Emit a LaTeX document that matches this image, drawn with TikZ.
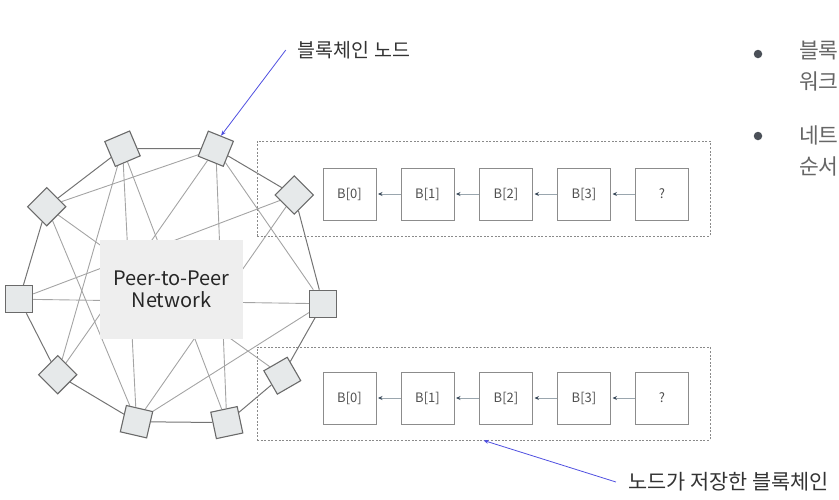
\documentclass[tikz,border=0pt]{standalone}
\usepackage{fontspec}
\setmainfont{Noto Sans CJK KR}
\usetikzlibrary{arrows.meta,backgrounds}
\definecolor{nodefill}{HTML}{E6E9EA}
\definecolor{nodeborder}{HTML}{6A6A6A}
\definecolor{ringcol}{HTML}{747474}
\definecolor{meshcol}{HTML}{A4A4A4}
\definecolor{p2pfill}{HTML}{EEEEEE}
\definecolor{blockborder}{HTML}{8C8C8C}
\definecolor{blocktext}{HTML}{505050}
\definecolor{dashcol}{HTML}{8A8A8A}
\definecolor{linkcol}{HTML}{9AA6AE}
\definecolor{tipcol}{HTML}{3A4A5A}
\definecolor{bluecol}{HTML}{4F4FE0}
\definecolor{labeltext}{HTML}{333333}
\definecolor{sidetextcol}{HTML}{666666}
\definecolor{bulletcol}{HTML}{4B5058}
\tikzset{
  peer/.style={shape=rectangle, draw=nodeborder, fill=nodefill, line width=1.1pt, minimum size=27pt, inner sep=0pt},
  ring/.style={draw=ringcol, line width=1pt},
  mesh/.style={draw=meshcol, line width=0.9pt},
  p2pbox/.style={fill=p2pfill, minimum width=143pt, minimum height=99pt, inner sep=0pt, align=center, text=black!85, font=\fontsize{20}{22}\selectfont},
  block/.style={draw=blockborder, line width=1pt, minimum width=53pt, minimum height=52pt, inner sep=0pt, text=blocktext, font=\fontsize{13}{15}\selectfont},
  chainbox/.style={draw=dashcol, dash pattern=on 2pt off 1.6pt, line width=0.8pt, minimum width=453pt, inner sep=0pt},
  link/.style={draw=linkcol, line width=1pt, -{Stealth[length=4.5pt,width=4pt,color=tipcol]}, shorten >=1.5pt},
  callout/.style={draw=bluecol, line width=0.8pt, -{Stealth[length=5pt,width=4pt]}},
  calltext/.style={inner xsep=12pt, inner ysep=2pt, text=labeltext, font=\fontsize{19.5}{22}\selectfont},
  sidetext/.style={anchor=west, inner sep=0pt, text=sidetextcol, font=\fontsize{21.5}{24}\selectfont},
  bulletdot/.style={circle, fill=bulletcol, minimum size=8.5pt, inner sep=0pt}
}
\begin{document}
\begin{tikzpicture}[x=1pt,y=-1pt]
\clip (0,0) rectangle (839,499);
% chain boxes
\node[chainbox, minimum height=95pt] (chainA) at (483.5,188.5) {};
\node[chainbox, minimum height=93pt] (chainB) at (483.5,393.5) {};
% blocks
\foreach \i/\x/\t in {0/349.5/B[0],1/427.5/B[1],2/506/B[2],3/584/B[3],4/662/?}{
  \node[block] (ta\i) at (\x,194) {\t};
  \node[block] (tb\i) at (\x,398) {\t};
}
\foreach \a/\b in {1/0,2/1,3/2,4/3}{
  \draw[link] (ta\a) -- (ta\b);
  \draw[link] (tb\a) -- (tb\b);
}
% peers
\node[peer, rotate=23]  (n1)  at (122.5,148.7) {};
\node[peer, rotate=-22] (n2)  at (215.8,148.7) {};
\node[peer, rotate=45]  (n3)  at (294.3,195) {};
\node[peer, rotate=45]  (n4)  at (46.7,206.7) {};
\node[peer]             (n5)  at (19.2,299.2) {};
\node[peer]             (n6)  at (323,303.7) {};
\node[peer, rotate=45]  (n7)  at (57.7,374.7) {};
\node[peer, rotate=30]  (n8)  at (282.3,375.7) {};
\node[peer, rotate=-13] (n9)  at (136.5,421.7) {};
\node[peer, rotate=12]  (n10) at (226.8,422.6) {};
\node[p2pbox] (p2p) at (171.5,289.5) {Peer-to-Peer\\Network};
\begin{scope}[on background layer]
  \foreach \a/\b in {1/2,2/3,3/6,6/8,8/10,10/9,9/7,7/5,5/4,4/1}
    \draw[ring] (n\a) -- (n\b);
  \foreach \a/\b in {1/7,1/9,1/10,2/4,2/7,2/10,2/6,3/5,3/9,4/8,4/9,5/6,6/9}
    \draw[mesh] (n\a) -- (n\b);
\end{scope}
% callouts
\node[calltext] (lbl1) at (354,50) {블록체인 노드};
\node[calltext, font=\fontsize{20.8}{23}\selectfont] (lbl2) at (728.5,482) {노드가 저장한 블록체인};
\draw[callout] (lbl1.west) -- (n2.north);
\draw[callout] (lbl2.west) -- (chainB.south);
% side bullets
\node[bulletdot] (bul1) at (758,54) {};
\node[bulletdot] (bul2) at (758,136) {};
\node[sidetext] (s1) at (799,51) {블록};
\node[sidetext] (s2) at (799,81) {워크};
\node[sidetext] (s3) at (799,135) {네트};
\node[sidetext] (s4) at (799,166) {순서};
\end{tikzpicture}
\end{document}
